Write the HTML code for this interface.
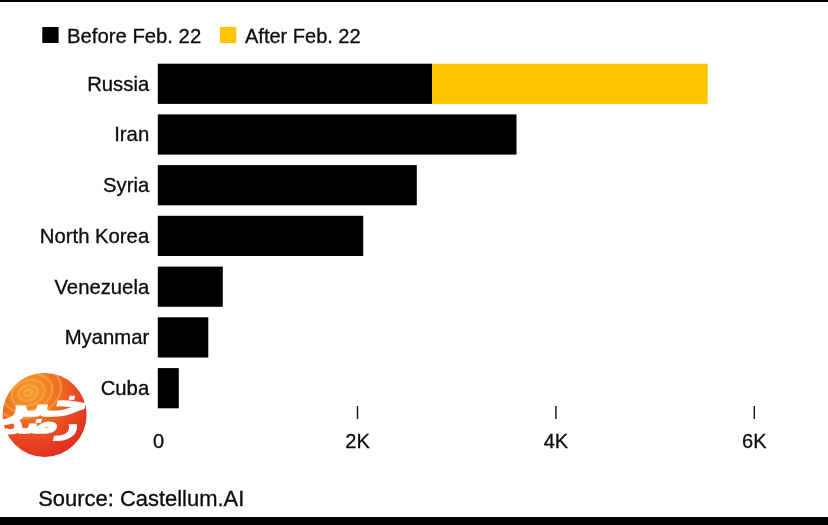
<!DOCTYPE html>
<html lang="en">
<head>
<meta charset="utf-8">
<title>Sanctions by country</title>
<style>
html,body{margin:0;padding:0;background:#fff;}
body{width:828px;height:525px;overflow:hidden;position:relative;font-family:"Liberation Sans",sans-serif;}
svg{display:block;position:absolute;left:0;top:0;}
text{font-family:"Liberation Sans",sans-serif;font-size:20px;fill:#0c0c0c;stroke:#0c0c0c;stroke-width:0.3px;}
.lab{font-size:20.3px;}
.lt{font-family:"DejaVu Sans",sans-serif;font-weight:bold;font-size:24px;fill:#fff;stroke:#fff;stroke-linejoin:miter;}
.lab{text-anchor:end;}
.ax{text-anchor:middle;}
</style>
</head>
<body>
<svg width="828" height="525" viewBox="0 0 828 525">
  <rect x="0" y="0" width="828" height="525" fill="#fff"/>
  <rect x="0" y="0" width="828" height="2" fill="#000"/>
  <rect x="0" y="517" width="828" height="8" fill="#000"/>

  <!-- legend -->
  <rect x="42.3" y="27" width="16.3" height="16" fill="#000"/>
  <text x="67" y="42.8" style="font-size:20.3px">Before Feb. 22</text>
  <rect x="220" y="27" width="16.3" height="16" fill="#ffc400"/>
  <text x="245" y="42.8">After Feb. 22</text>

  <!-- bars -->
  <rect x="157.8" y="63.7" width="274.2" height="40.2" fill="#000"/>
  <rect x="432" y="63.7" width="275.7" height="40.2" fill="#ffc400"/>
  <rect x="157.8" y="114.4" width="358.7" height="40.2" fill="#000"/>
  <rect x="157.8" y="165.1" width="259" height="40.2" fill="#000"/>
  <rect x="157.8" y="215.8" width="205.4" height="40.2" fill="#000"/>
  <rect x="157.8" y="266.6" width="65" height="40.2" fill="#000"/>
  <rect x="157.8" y="317.3" width="50.5" height="40.2" fill="#000"/>
  <rect x="157.8" y="368.1" width="21" height="40.2" fill="#000"/>

  <!-- labels -->
  <text class="lab" x="149.2" y="90.6">Russia</text>
  <text class="lab" x="149.2" y="141.3">Iran</text>
  <text class="lab" x="149.2" y="192.0">Syria</text>
  <text class="lab" x="149.2" y="242.9">North Korea</text>
  <text class="lab" x="149.2" y="293.6">Venezuela</text>
  <text class="lab" x="149.2" y="344.3">Myanmar</text>
  <text class="lab" x="149.2" y="395.0">Cuba</text>

  <!-- axis -->
  <rect x="356.8" y="406" width="1.4" height="13" fill="#111"/>
  <rect x="555.2" y="406" width="1.4" height="13" fill="#111"/>
  <rect x="753.6" y="406" width="1.4" height="13" fill="#111"/>
  <text class="ax" x="158.5" y="447.7">0</text>
  <text class="ax" x="357.5" y="447.7">2K</text>
  <text class="ax" x="555.9" y="447.7">4K</text>
  <text class="ax" x="754.3" y="447.7">6K</text>

  <text x="38.2" y="505.7" style="font-size:21.95px">Source: Castellum.AI</text>

  <!-- logo -->
  <defs>
    <radialGradient id="lg" cx="0.32" cy="0.22" r="0.85">
      <stop offset="0" stop-color="#f6a030"/>
      <stop offset="0.3" stop-color="#f07e1f"/>
      <stop offset="0.62" stop-color="#ea4f22"/>
      <stop offset="1" stop-color="#e02a20"/>
    </radialGradient>
    <clipPath id="lc"><circle cx="44.6" cy="414.9" r="42"/></clipPath>
  </defs>
  <circle cx="44.6" cy="414.9" r="42" fill="url(#lg)"/>
  <g clip-path="url(#lc)"><g fill="none" stroke="#fbc06a" stroke-opacity="0.4" transform="rotate(-20 28 393)">
    <ellipse cx="28" cy="393" rx="4" ry="3" stroke-width="1.8"/>
    <ellipse cx="28" cy="393" rx="10" ry="7.5" stroke-width="2"/>
    <ellipse cx="28" cy="393" rx="17" ry="12.5" stroke-width="2.2"/>
    <ellipse cx="28" cy="393" rx="25" ry="18" stroke-width="2.4"/>
    <ellipse cx="28" cy="393" rx="34" ry="24" stroke-width="2.6"/>
  </g></g>
  <g class="ltg">
    <text class="lt" transform="translate(42.5,415.8) skewX(-14) scale(1.14,0.84)" text-anchor="middle" style="font-size:44px;stroke-width:1.6px">خبر</text>
    <text class="lt" transform="translate(40.5,432.5) skewX(-14) scale(1.12,0.95)" text-anchor="middle" style="font-size:31px;stroke-width:1.8px">رصد</text>
  </g>

</svg>
</body>
</html>
